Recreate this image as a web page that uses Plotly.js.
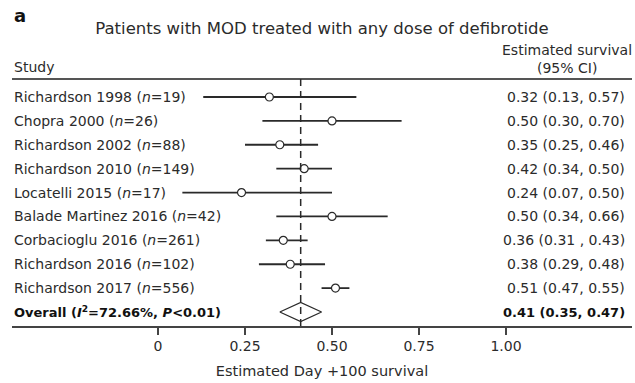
<!DOCTYPE html>
<html>
<head>
<meta charset="utf-8">
<script src="https://cdn.plot.ly/plotly-3.0.1.min.js"></script>
<style>body{margin:0;padding:0;background:#fff;}</style>
</head>
<body>
<div id="chart" style="width:635px;height:383px;"></div>
<script>
// ---- data ----
const studies = [
  "Richardson 1998 (<i>n</i>=19)",
  "Chopra 2000 (<i>n</i>=26)",
  "Richardson 2002 (<i>n</i>=88)",
  "Richardson 2010 (<i>n</i>=149)",
  "Locatelli 2015 (<i>n</i>=17)",
  "Balade Martinez 2016 (<i>n</i>=42)",
  "Corbacioglu 2016 (<i>n</i>=261)",
  "Richardson 2016 (<i>n</i>=102)",
  "Richardson 2017 (<i>n</i>=556)"
];
const estimate = [0.32, 0.50, 0.35, 0.42, 0.24, 0.50, 0.36, 0.38, 0.51];
const lower    = [0.13, 0.30, 0.25, 0.34, 0.07, 0.34, 0.31, 0.29, 0.47];
const upper    = [0.57, 0.70, 0.46, 0.50, 0.50, 0.66, 0.43, 0.48, 0.55];
const ciLabels = [
  "0.32 (0.13, 0.57)", "0.50 (0.30, 0.70)", "0.35 (0.25, 0.46)",
  "0.42 (0.34, 0.50)", "0.24 (0.07, 0.50)", "0.50 (0.34, 0.66)",
  "0.36 (0.31 , 0.43)", "0.38 (0.29, 0.48)", "0.51 (0.47, 0.55)"
];
const overallLabel = "<b>Overall (<i>I</i><sup>2</sup>=72.66%, <i>P</i><0.01)</b>";
const overallEst = 0.41, overallLo = 0.35, overallHi = 0.47;
const overallCI = "<b>0.41 (0.35, 0.47)</b>";
const tickVals = [0, 0.25, 0.5, 0.75, 1.0];
const tickText = ["0", "0.25", "0.50", "0.75", "1.00"];

// ---- build ----
const FONT = "DejaVu Sans, Arial, sans-serif";
const TXT = "#2b2b2b";
const LINE = "#2a2a2a";
const rows = studies.map((_, i) => i);
const nOverall = studies.length;

const ciTrace = {
  type: "scatter", mode: "markers",
  x: estimate, y: rows,
  marker: {symbol: "circle", size: 8, color: "#ffffff", line: {color: LINE, width: 1.2}},
  error_x: {
    type: "data", symmetric: false,
    array: estimate.map((e, i) => upper[i] - e),
    arrayminus: estimate.map((e, i) => e - lower[i]),
    width: 0, thickness: 1.8, color: LINE
  },
  hoverinfo: "skip", showlegend: false
};
const dh = 0.4;
const diamond = {
  type: "scatter", mode: "lines",
  x: [overallLo, overallEst, overallHi, overallEst, overallLo],
  y: [nOverall, nOverall - dh, nOverall, nOverall + dh, nOverall],
  fill: "toself", fillcolor: "#ffffff",
  line: {color: LINE, width: 1.3},
  hoverinfo: "skip", showlegend: false
};

const plotW = 620, plotH = 247, plotTop = 79;
const px2paperY = py => (326 - py) / plotH;
const px2paperX = px => (px - 12) / plotW;

const annotations = [];
studies.forEach((s, i) => {
  annotations.push({xref: "paper", yref: "y", x: 0, y: i, xanchor: "left", yanchor: "middle",
    text: s, showarrow: false, font: {family: FONT, size: 14, color: TXT}});
  annotations.push({xref: "paper", yref: "y", x: px2paperX(627), y: i, xanchor: "right", yanchor: "middle",
    text: ciLabels[i], showarrow: false, font: {family: FONT, size: 14, color: TXT}});
});
annotations.push({xref: "paper", yref: "y", x: 0, y: nOverall, xanchor: "left", yanchor: "middle",
  text: overallLabel, showarrow: false, font: {family: FONT, size: 13, color: "#111"}});
annotations.push({xref: "paper", yref: "y", x: px2paperX(627), y: nOverall, xanchor: "right", yanchor: "middle",
  text: overallCI, showarrow: false, font: {family: FONT, size: 13, color: "#111"}});
annotations.push({xref: "paper", yref: "paper", x: 0, y: px2paperY(16), xanchor: "left", yanchor: "middle",
  text: "<b>a</b>", showarrow: false, font: {family: FONT, size: 18, color: "#111"}});
annotations.push({xref: "paper", yref: "paper", x: 0, y: px2paperY(67), xanchor: "left", yanchor: "middle",
  text: "Study", showarrow: false, font: {family: FONT, size: 14, color: TXT}});
annotations.push({xref: "paper", yref: "paper", x: px2paperX(567), y: px2paperY(50), xanchor: "center", yanchor: "middle",
  text: "Estimated survival", showarrow: false, font: {family: FONT, size: 14, color: TXT}});
annotations.push({xref: "paper", yref: "paper", x: px2paperX(567), y: px2paperY(68), xanchor: "center", yanchor: "middle",
  text: "(95% CI)", showarrow: false, font: {family: FONT, size: 14, color: TXT}});

const xMin = (12 - 158) / 348, xMax = (632 - 158) / 348;
const rowPx = 23.9;
const yTop = -(97 - plotTop) / rowPx;
const yBot = nOverall + (326 - 312) / rowPx;

const layout = {
  width: 635, height: 383,
  margin: {l: 12, r: 3, t: plotTop, b: 383 - 326, pad: 0},
  paper_bgcolor: "#ffffff", plot_bgcolor: "#ffffff",
  title: {text: "Patients with MOD treated with any dose of defibrotide",
    font: {family: FONT, size: 16.5, color: TXT},
    x: 0.5, xref: "paper", xanchor: "center", y: 1 - 28 / 383, yanchor: "middle"},
  xaxis: {
    range: [xMin, xMax], showgrid: false, zeroline: false,
    showline: true, linecolor: "#444", linewidth: 1.5,
    ticks: "outside", ticklen: 7, tickcolor: "#444", tickwidth: 1.5,
    tickvals: tickVals, ticktext: tickText,
    tickfont: {family: FONT, size: 14, color: TXT},
    title: {text: "Estimated Day +100 survival", font: {family: FONT, size: 14.5, color: TXT}, standoff: 12},
    fixedrange: true
  },
  yaxis: {
    range: [yBot, yTop], showgrid: false, zeroline: false, showline: false,
    showticklabels: false, ticks: "", fixedrange: true
  },
  shapes: [
    {type: "line", xref: "paper", yref: "paper", x0: 0, x1: 1, y0: 1, y1: 1,
      line: {color: "#555", width: 2}},
    {type: "line", xref: "x", yref: "paper", x0: overallEst, x1: overallEst, y0: 0, y1: 1,
      line: {color: LINE, width: 1.5, dash: "7px,5px"}}
  ],
  annotations: annotations,
  showlegend: false
};

Plotly.newPlot("chart", [ciTrace, diamond], layout, {displayModeBar: false, staticPlot: true});
</script>
</body>
</html>
